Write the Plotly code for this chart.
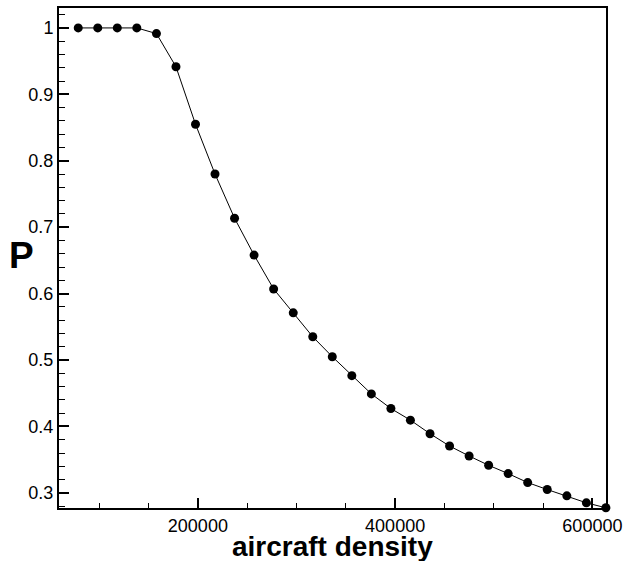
import plotly.graph_objects as go

density = [78700, 98500, 118300, 138100, 158000, 177800, 197600, 217400,
           237200, 257000, 276800, 296700, 316500, 336300, 356100, 375900,
           395700, 415500, 435400, 455200, 475000, 494800, 514600, 534400,
           554200, 574100, 593900, 613700]
prob = [1.0, 1.0, 1.0, 1.0, 0.9915, 0.9415, 0.855, 0.78,
        0.7135, 0.658, 0.607, 0.571, 0.535, 0.505, 0.4765, 0.449,
        0.427, 0.4095, 0.389, 0.3705, 0.3555, 0.3415, 0.329, 0.3155,
        0.305, 0.2955, 0.285, 0.2775]

x_ticks = [200000, 400000, 600000]
y_ticks = [0.3, 0.4, 0.5, 0.6, 0.7, 0.8, 0.9, 1]
y_labels = ['0.3', '0.4', '0.5', '0.6', '0.7', '0.8', '0.9', '1']

fig = go.Figure()
fig.add_trace(go.Scatter(
    x=density,
    y=prob,
    mode='lines+markers',
    line=dict(color='black', width=1),
    marker=dict(color='black', size=9),
    cliponaxis=False,
    showlegend=False
))

font = 'Liberation Sans, Arial, sans-serif'

fig.update_layout(
    width=628, height=561,
    margin=dict(l=59, r=19, t=6, b=53),
    paper_bgcolor='white',
    plot_bgcolor='white',
    font=dict(family=font, color='black', size=18),
    xaxis=dict(
        range=[59200, 613800],
        tickvals=x_ticks, tickformat='d',
        ticks='inside', ticklen=10, tickwidth=2, tickcolor='black',
        minor=dict(dtick=50000, tick0=0, ticks='inside', ticklen=5,
                   tickwidth=1, tickcolor='black'),
        showline=True, linewidth=2, linecolor='black', mirror=True,
        showgrid=False, zeroline=False,
        tickfont=dict(size=18),
    ),
    yaxis=dict(
        range=[0.2772, 1.03],
        tickvals=y_ticks, ticktext=y_labels,
        ticks='inside', ticklen=10, tickwidth=2, tickcolor='black',
        minor=dict(dtick=0.02, tick0=0, ticks='inside', ticklen=6,
                   tickwidth=1, tickcolor='black'),
        showline=True, linewidth=2, linecolor='black', mirror=True,
        showgrid=False, zeroline=False,
        tickfont=dict(size=18),
    ),
    annotations=[
        dict(text='<b>aircraft density</b>', x=0.5, y=-0.076,
             xref='paper', yref='paper', showarrow=False,
             xanchor='center', yanchor='middle',
             font=dict(size=28, family=font)),
        dict(text='<b>P</b>', x=-0.068, y=0.506,
             xref='paper', yref='paper', showarrow=False,
             xanchor='center', yanchor='middle',
             font=dict(size=37, family=font)),
    ]
)

fig.write_html('out.html', config={'displayModeBar': False},
               post_script="document.body.style.margin='0';")
